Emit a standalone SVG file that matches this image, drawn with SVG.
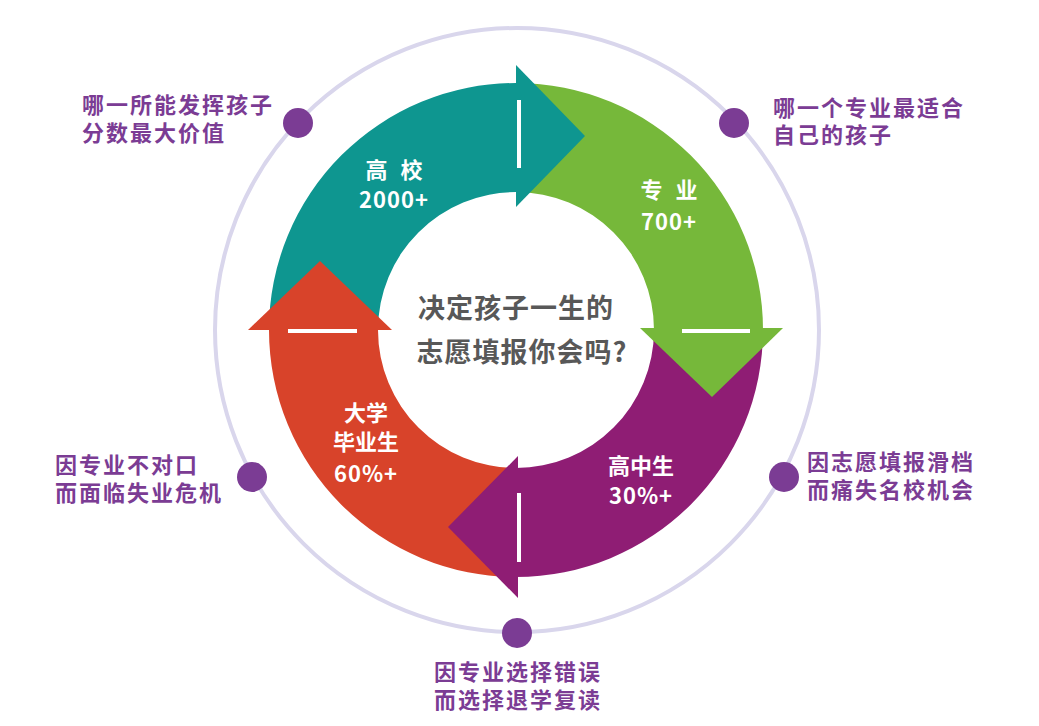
<svg xmlns="http://www.w3.org/2000/svg" width="1039" height="726" viewBox="0 0 1039 726" xml:lang="zh-CN">
<style>
.t{font-family:"Noto Sans CJK SC","Noto Sans",sans-serif;font-weight:700}
.lbl{font-family:"Liberation Sans","Noto Sans CJK SC",sans-serif;font-weight:700;fill:#7b3c94;font-size:22px;letter-spacing:2px}
.ring{fill:#ffffff;font-size:22px;text-anchor:middle}
.ctr{fill:#585858;font-size:27px;text-anchor:middle;letter-spacing:1px}
.dot{fill:#7b3c94}
.tick{stroke:#ffffff;stroke-width:4}
.teal{fill:#0e9690}.green{fill:#76b83a}.purple{fill:#8f1d74}.red{fill:#d8432a}
</style>
<rect width="1039" height="726" fill="#ffffff"/>
<g id="connectors">
<circle cx="517" cy="330" r="302" fill="none" stroke="#d9d6ec" stroke-width="4"/>
</g>
<g id="seg-gaoxiao-body"><path class="teal" d="M269,330 A247,247 0 0 1 516,83 L516,192 A138,138 0 0 0 378,330 Z"/></g>
<g id="seg-zhuanye-body"><path class="green" d="M516,83 A247,247 0 0 1 763,330 L654,330 A138,138 0 0 0 516,192 Z"/></g>
<g id="seg-gaozhong-body"><path class="purple" d="M763,330 A247,247 0 0 1 516,577 L516,468 A138,138 0 0 0 654,330 Z"/></g>
<g id="seg-daxue-body"><path class="red" d="M516,577 A247,247 0 0 1 269,330 L378,330 A138,138 0 0 0 516,468 Z"/></g>
<g id="seg-gaoxiao">
<polygon class="teal" points="516,65 585,136 516,207"/>
<line class="tick" x1="519" y1="100" x2="519" y2="168"/>
<text class="t ring" x="394" y="178" word-spacing="8">高 校</text>
<text class="t ring" x="394" y="208" letter-spacing="1">2000+</text>
</g>
<g id="seg-zhuanye">
<polygon class="green" points="640,328 783,328 712,397"/>
<line class="tick" x1="682" y1="331" x2="750" y2="331"/>
<text class="t ring" x="669" y="198" word-spacing="8">专 业</text>
<text class="t ring" x="669" y="230" letter-spacing="1">700+</text>
</g>
<g id="seg-gaozhong">
<polygon class="purple" points="518,456 518,598 448,527"/>
<line class="tick" x1="519" y1="493" x2="519" y2="562"/>
<text class="t ring" x="641" y="474">高中生</text>
<text class="t ring" x="641" y="504" letter-spacing="1">30%+</text>
</g>
<g id="seg-daxue">
<polygon class="red" points="248,330 392,330 320,261"/>
<line class="tick" x1="288" y1="331" x2="357" y2="331"/>
<text class="t ring" x="366" y="421">大学</text>
<text class="t ring" x="366" y="450">毕业生</text>
<text class="t ring" x="366" y="482" letter-spacing="1">60%+</text>
</g>
<g id="center">
<text class="t ctr" x="516" y="318">决定孩子一生的</text>
<text class="t ctr" x="522" y="362">志愿填报你会吗?</text>
</g>
<g id="note-tl">
<circle class="dot" cx="298" cy="123" r="15"/>
<text class="lbl" x="82" y="113">哪一所能发挥孩子</text>
<text class="lbl" x="82" y="141">分数最大价值</text>
</g>
<g id="note-tr">
<circle class="dot" cx="734" cy="123" r="15"/>
<text class="lbl" x="773" y="116">哪一个专业最适合</text>
<text class="lbl" x="773" y="143">自己的孩子</text>
</g>
<g id="note-l">
<circle class="dot" cx="252" cy="477" r="15"/>
<text class="lbl" x="55" y="473">因专业不对口</text>
<text class="lbl" x="55" y="501">而面临失业危机</text>
</g>
<g id="note-r">
<circle class="dot" cx="784" cy="477" r="15"/>
<text class="lbl" x="807" y="470">因志愿填报滑档</text>
<text class="lbl" x="807" y="498">而痛失名校机会</text>
</g>
<g id="note-b">
<circle class="dot" cx="517" cy="633" r="15"/>
<text class="lbl" x="518" y="680" text-anchor="middle">因专业选择错误</text>
<text class="lbl" x="518" y="708" text-anchor="middle">而选择退学复读</text>
</g>
</svg>
